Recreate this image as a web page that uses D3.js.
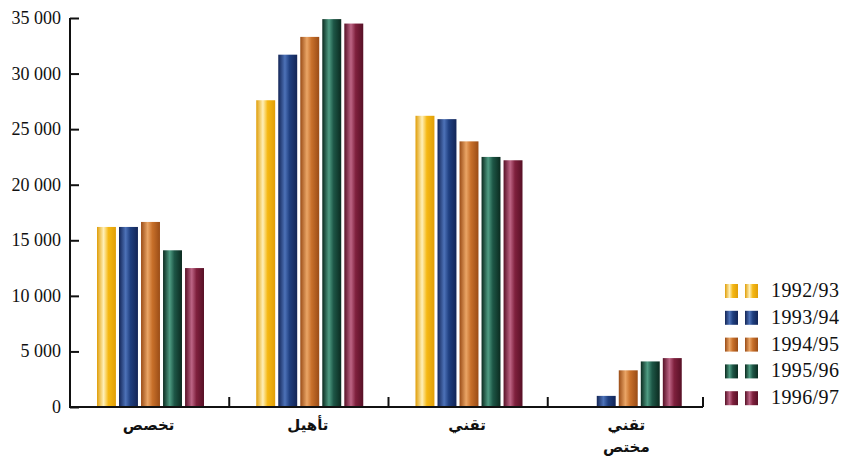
<!DOCTYPE html>
<html>
<head>
<meta charset="utf-8">
<script src="https://cdn.jsdelivr.net/npm/d3@7"></script>
<style>
  html, body { margin: 0; padding: 0; background: #fff; }
  svg { display: block; }
</style>
</head>
<body>
<svg id="chart" width="843" height="459"></svg>
<script>
// ---- data ----
const categories = ["تخصص", "تأهيل", "تقني", "تقني مختص"];
const seriesNames = ["1992/93", "1993/94", "1994/95", "1995/96", "1996/97"];
const v1992 = [16200, 27600, 26200, 0];
const v1993 = [16200, 31700, 25900, 1000];
const v1994 = [16650, 33300, 23900, 3300];
const v1995 = [14100, 34900, 22500, 4100];
const v1996 = [12500, 34500, 22200, 4400];
const seriesValues = [v1992, v1993, v1994, v1995, v1996];
const yTicks = [0, 5000, 10000, 15000, 20000, 25000, 30000, 35000];

// colours: [dark, light, base]
const palette = [
  ["#e09e08", "#fff0b8", "#f5b814"],
  ["#132556", "#4d72b8", "#1f3f80"],
  ["#9a4c16", "#eaa566", "#c8702a"],
  ["#0b2a1f", "#4f9c83", "#1d5646"],
  ["#571026", "#bd6585", "#7f203d"]
];

const svg = d3.select("#chart");
const defs = svg.append("defs");
palette.forEach((c, i) => {
  const g = defs.append("linearGradient").attr("id", "grad" + i)
    .attr("x1", "0").attr("x2", "1").attr("y1", "0").attr("y2", "0");
  g.append("stop").attr("offset", "0%").attr("stop-color", c[0]);
  g.append("stop").attr("offset", "35%").attr("stop-color", c[1]);
  g.append("stop").attr("offset", "60%").attr("stop-color", c[2]);
  g.append("stop").attr("offset", "100%").attr("stop-color", c[0]);
});

const y = d3.scaleLinear().domain([0, 35000]).range([407, 18]);
const x0 = d3.scaleBand().domain(categories).range([70, 707]).padding(0);
const x1 = d3.scaleBand().domain(seriesNames).range([27, 134]).paddingInner(0.14);

// bars
const data = categories.map((c, ci) => ({
  cat: c,
  vals: seriesNames.map((s, si) => ({ s, si, v: seriesValues[si][ci] }))
}));
const groups = svg.append("g").selectAll("g").data(data).join("g")
  .attr("transform", d => `translate(${x0(d.cat)},0)`);
groups.selectAll("rect").data(d => d.vals.filter(e => e.v > 0)).join("rect")
  .attr("x", d => x1(d.s))
  .attr("width", x1.bandwidth())
  .attr("y", d => y(d.v))
  .attr("height", d => y(0) - y(d.v))
  .attr("fill", d => `url(#grad${d.si})`);

// y axis
const yAxis = d3.axisRight(y).tickValues(yTicks).tickSize(9).tickFormat("");
const ya = svg.append("g").attr("transform", "translate(70,0)").call(yAxis);
ya.select(".domain").attr("stroke", "#111").attr("stroke-width", 2).attr("d", "M0,18V408");
ya.selectAll(".tick line").attr("stroke", "#111").attr("stroke-width", 2);

const fmt = v => d3.format(",")(v).replace(/,/g, " ");
svg.append("g").selectAll("text").data(yTicks).join("text")
  .attr("x", 61).attr("y", d => y(d) + 6)
  .attr("text-anchor", "end")
  .attr("font-family", "Liberation Serif, serif")
  .attr("font-size", 18)
  .attr("fill", "#111")
  .text(fmt);

// x axis
const boundaries = categories.slice(1).map(c => x0(c)).concat([x0.range()[1] - 4]);
svg.append("line").attr("x1", 69).attr("x2", x0.range()[1] - 4)
  .attr("y1", 407).attr("y2", 407).attr("stroke", "#111").attr("stroke-width", 2);
svg.append("g").selectAll("line").data(boundaries).join("line")
  .attr("x1", d => d).attr("x2", d => d)
  .attr("y1", 407).attr("y2", 397)
  .attr("stroke", "#111").attr("stroke-width", 2);

// category labels
svg.append("g").selectAll("text").data(categories).join("text")
  .attr("x", d => x0(d) + x0.bandwidth() / 2 - 1)
  .attr("y", 430)
  .attr("text-anchor", "middle")
  .attr("font-family", "DejaVu Sans, sans-serif")
  .attr("font-size", 15)
  .attr("font-weight", "bold")
  .attr("fill", "#111")
  .each(function(d) {
    const parts = d.split(" ");
    const t = d3.select(this);
    parts.forEach((p, i) => {
      t.append("tspan").attr("x", x0(d) + x0.bandwidth() / 2 - 1)
        .attr("dy", i === 0 ? 0 : 22).text(p);
    });
  });

// legend
const legend = svg.append("g").selectAll("g").data(seriesNames).join("g")
  .attr("transform", (d, i) => `translate(725,${291 + i * 26.8})`);
legend.append("rect").attr("x", 0).attr("y", -7).attr("width", 13).attr("height", 14)
  .attr("fill", (d, i) => `url(#grad${i})`);
legend.append("rect").attr("x", 20).attr("y", -7).attr("width", 13).attr("height", 14)
  .attr("fill", (d, i) => `url(#grad${i})`);
legend.append("text").attr("x", 46).attr("y", 6)
  .attr("font-family", "Liberation Serif, serif")
  .attr("font-size", 20)
  .attr("letter-spacing", 0.4)
  .attr("fill", "#111")
  .text(d => d);
</script>
</body>
</html>
